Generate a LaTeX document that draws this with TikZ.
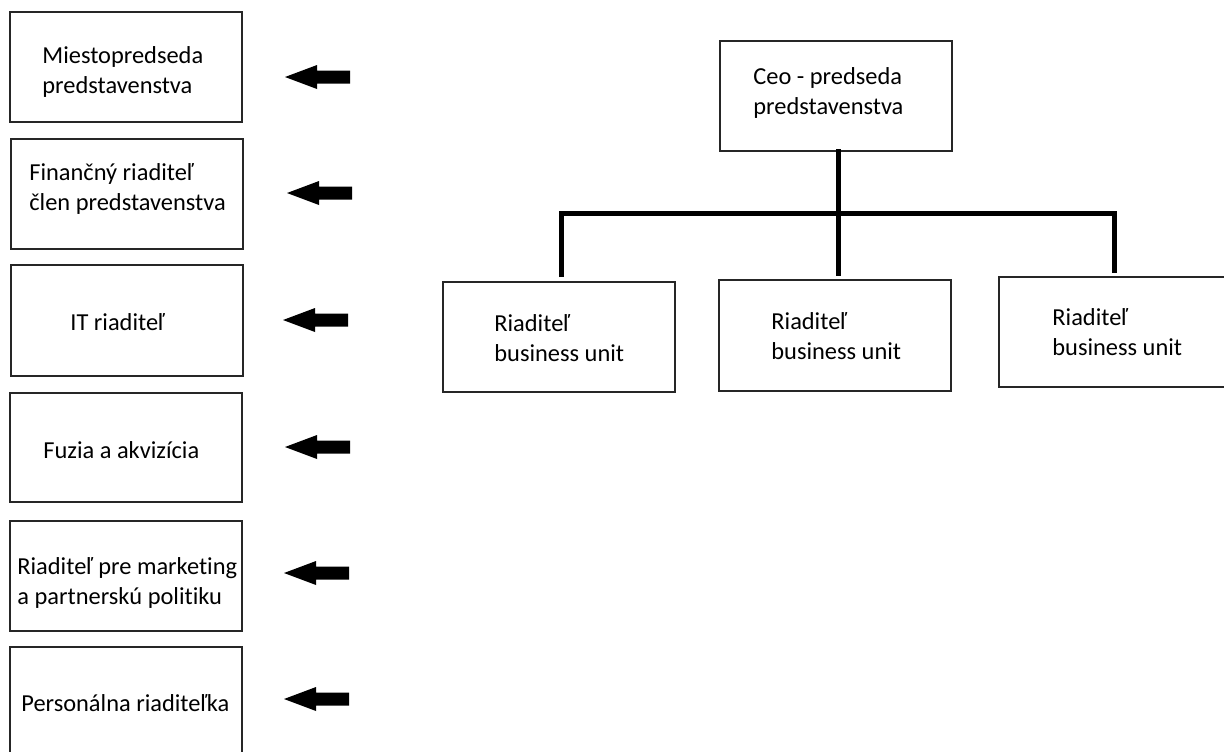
\documentclass[tikz,border=0pt]{standalone}
\usepackage{fontspec}
\setmainfont{Carlito}[Ligatures=NoCommon]
\begin{document}
\begin{tikzpicture}[x=0.5pt,y=-0.5pt,
  boxline/.style={draw=black!85,line width=0.65pt},
  lbl/.style={anchor=west,inner sep=0pt,align=left,font=\fontsize{12.2}{15}\selectfont},
  conn/.style={line width=2.5pt,line join=miter},
  bigarrow/.pic={\fill (0,0) -- (32,-12) -- (32,-6.5) -- (65,-6.5) -- (65,6.5) -- (32,6.5) -- (32,12) -- cycle;}]
\useasboundingbox (0,0) rectangle (1224,751);
% left column boxes
\draw[boxline] (10,12) rectangle (242,122);
\draw[boxline] (11,139) rectangle (243,249);
\draw[boxline] (11,265) rectangle (243,376);
\draw[boxline] (10,393) rectangle (242,502);
\draw[boxline] (10,521) rectangle (242,631);
\draw[boxline] (10,647) rectangle (242,770);
\node[lbl] (t1) at (42,71.5) {Miestopredseda\\predstavenstva};
\node[lbl] (t2) at (29,188.5) {Finančný riaditeľ\\člen predstavenstva};
\node[lbl] (t3) at (70,322) {IT riaditeľ};
\node[lbl] (t4) at (43,450) {Fuzia a akvizícia};
\node[lbl] (t5) at (17,583) {Riaditeľ pre marketing\\a partnerskú politiku};
\node[lbl] (t6) at (21,703) {Personálna riaditeľka};
% arrows
\pic at (285,77) {bigarrow};
\pic at (287,193) {bigarrow};
\pic at (283,320) {bigarrow};
\pic at (285,447) {bigarrow};
\pic at (284,573) {bigarrow};
\pic at (284,699) {bigarrow};
% right org chart
\draw[boxline] (720,41) rectangle (952,151);
\draw[boxline] (443,282) rectangle (675,392);
\draw[boxline] (719,280) rectangle (951,391);
\draw[boxline] (999,277) rectangle (1240,387);
\node[lbl] (ceo) at (753,93) {Ceo - predseda\\predstavenstva};
\node[lbl] (u1) at (494,338) {Riaditeľ\\business unit};
\node[lbl] (u2) at (771,336) {Riaditeľ\\business unit};
\node[lbl] (u3) at (1052,332.5) {Riaditeľ\\business unit};
\coordinate (top) at (838,149);
\coordinate (j) at (838,213);
\coordinate (e1) at (561,277);
\coordinate (e2) at (838,276);
\coordinate (e3) at (1114,273);
\draw[conn] (top) -- (e2);
\draw[conn] (e1) |- (j) -| (e3);
\end{tikzpicture}
\end{document}
